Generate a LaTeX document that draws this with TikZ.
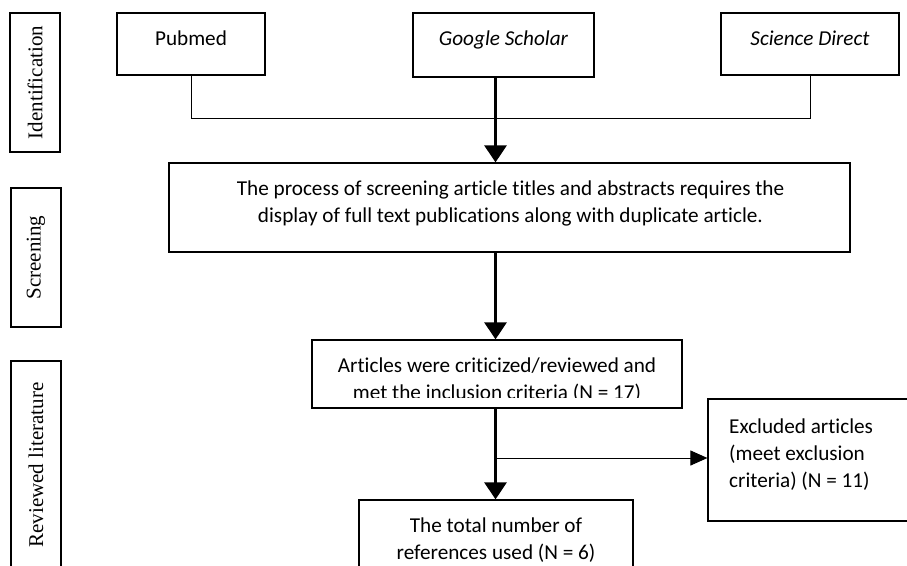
\documentclass[tikz,border=0pt]{standalone}
\usepackage{fontspec}
\setmainfont{Carlito}[Ligatures=CommonOff]
\newfontfamily\tnr{Liberation Serif}
\usetikzlibrary{arrows.meta}
\tikzset{
  box/.style={draw, line width=1.2pt, rectangle, inner sep=0pt},
  sidetext/.style={rotate=90, font=\tnr\fontsize{21}{24}\selectfont, inner sep=0pt},
  txt/.style={font=\fontsize{21.2}{27}\selectfont, inner sep=0pt, anchor=base},
  thickarrow/.style={line width=2.6pt, -{Triangle[width=22pt,length=17pt]}},
  thinline/.style={line width=1pt},
  thinarrow/.style={line width=1pt, -{Triangle[width=15pt,length=17pt]}},
}
\begin{document}
\begin{tikzpicture}[x=1pt,y=-1pt]
\useasboundingbox (0,0) rectangle (907,565);
\clip (0,0) rectangle (907,565);
% side labels
\node[box, minimum width=50pt, minimum height=139pt] (lid) at (35,82.5) {};
\node[sidetext] (tid) at (lid.center) {Identification};
\node[box, minimum width=50pt, minimum height=139pt] (lscr) at (36,257.5) {};
\node[sidetext] (tscr) at (lscr.center) {Screening};
\node[box, minimum width=50pt, minimum height=240pt] (lrev) at (36,481) {};
\node[sidetext] (trev) at (36,465) {Reviewed literature};
% sources
\node[box, minimum width=148pt, minimum height=62pt] (pub) at (191,44) {};
\node[txt] (tpub) at (191,45) {Pubmed};
\node[box, minimum width=181pt, minimum height=64pt] (gs) at (503.5,45) {};
\node[txt] (tgs) at (503.5,45) {\itshape Google Scholar};
\node[box, minimum width=178pt, minimum height=62pt] (sd) at (810,44) {};
\node[txt] (tsd) at (810,45) {\itshape Science Direct};
% screening
\node[box, minimum width=681pt, minimum height=89pt] (scr) at (509.5,207.5) {};
\node[txt] (tscr1) at (510.5,195) {The process of screening article titles and abstracts requires the};
\node[txt] (tscr2) at (510.5,222) {display of full text publications along with duplicate article.};
% articles
\node[box, minimum width=370pt, minimum height=68pt] (art) at (497,374) {};
\begin{scope}
\clip (312,340) rectangle (682,397);
\node[txt] (tart1) at (497,372) {Articles were criticized/reviewed and};
\node[txt] (tart2) at (497,399.5) {met the inclusion criteria (N = 17)};
\end{scope}
% excluded
\node[box, minimum width=210pt, minimum height=122pt] (exc) at (813,460) {};
\node[txt, anchor=base west] (texc1) at (729,433) {Excluded articles};
\node[txt, anchor=base west] (texc2) at (729,460) {(meet exclusion};
\node[txt, anchor=base west] (texc3) at (729,487) {criteria) (N = 11)};
% total
\node[box, minimum width=274pt, minimum height=100pt] (tot) at (496,550) {};
\node[txt] (ttot1) at (496,532) {The total number of};
\node[txt] (ttot2) at (496,559) {references used (N = 6)};
% connectors
\coordinate (ax) at (495.5,0);
\coordinate (jn) at (0,118);
\draw[thinline] (pub.south) -- (pub.south |- jn) -- (sd.south |- jn) -- (sd.south);
\draw[thickarrow] (ax |- gs.south) -- (ax |- scr.north);
\draw[thickarrow] (ax |- scr.south) -- (ax |- art.north);
\draw[thickarrow] (ax |- art.south) -- (ax |- tot.north);
\coordinate (br) at (495.5,458);
\draw[thinarrow] (br) -- (br -| exc.west);
\end{tikzpicture}
\end{document}
